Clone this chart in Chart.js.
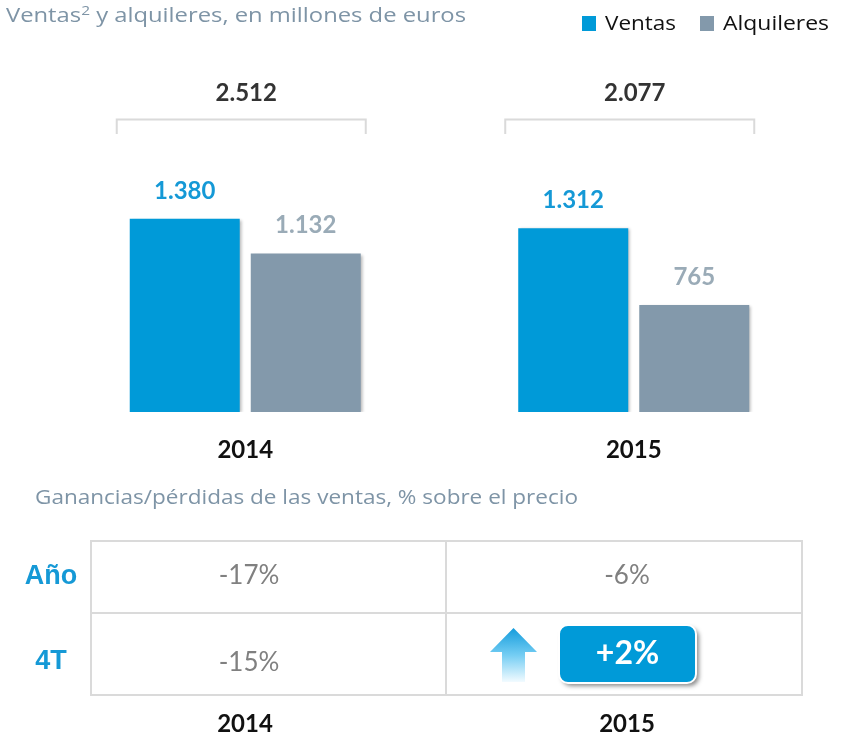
<!DOCTYPE html>
<html><head><meta charset="utf-8">
<script src="https://cdn.jsdelivr.net/npm/chart.js@4.4.1/dist/chart.umd.min.js"></script>
<style>html,body{margin:0;padding:0;background:#fff;} #wrap{position:relative;width:850px;height:737px;}</style>
</head><body><div id="wrap"><canvas id="c" width="850" height="737"></canvas></div>
<script>
// ---- data ----
const categories = ['2014', '2015'];
const seriesNames = ['Ventas', 'Alquileres'];
const ventas = [1380, 1312];
const alquileres = [1132, 765];
const totals = [2512, 2077];
const titleMain = ['Ventas', '2', ' y alquileres, en millones de euros'];
const subtitle = 'Ganancias/pérdidas de las ventas, % sobre el precio';
const tableRows = ['Año', '4T'];
const tableCols = ['2014', '2015'];
const gainsAno = ['-17%', '-6%'];
const gains4T = ['-15%', '+2%'];

// ---- styles ----
const BLUE = '#009ad8', GREY = '#8399ab';
const BLUE_TXT = '#1599d6', GREY_TXT = '#9aabb7';
const TITLE_COL = '#7e94a6';
const FONT = 'Lato, "Open Sans", sans-serif';
const RFONT = '"Open Sans", Lato, sans-serif';

function fmt(n) { return String(n).replace(/\B(?=(\d{3})+(?!\d))/g, '.'); }

// draw left-aligned text horizontally fitted to a target width
function fillFit(ctx, parts, x, y, targetW) {
  // parts: [{t, font, dy}]
  let w = 0;
  parts.forEach(p => { ctx.font = p.font; p.w = ctx.measureText(p.t).width; w += p.w; });
  const s = targetW / w;
  ctx.save();
  ctx.translate(x, y);
  ctx.scale(s, 1);
  let cx = 0;
  parts.forEach(p => { ctx.font = p.font; ctx.fillText(p.t, cx, p.dy || 0); cx += p.w; });
  ctx.restore();
}

const overlay = {
  id: 'overlay',
  beforeDatasetsDraw(chart) {
    const ctx = chart.ctx;
    ctx.save();
    ctx.shadowColor = 'rgba(0,0,0,0.28)';
    ctx.shadowOffsetX = 2; ctx.shadowOffsetY = 1; ctx.shadowBlur = 3;
  },
  afterDatasetsDraw(chart) {
    const ctx = chart.ctx;
    ctx.restore();
    const m0 = chart.getDatasetMeta(0), m1 = chart.getDatasetMeta(1);
    ctx.save();
    ctx.textAlign = 'center'; ctx.textBaseline = 'middle';
    ctx.font = 'bold 24px ' + FONT;
    chart.data.datasets.forEach((ds, di) => {
      const meta = chart.getDatasetMeta(di);
      ctx.fillStyle = di === 0 ? BLUE_TXT : GREY_TXT;
      meta.data.forEach((bar, i) => {
        ctx.fillText(fmt(ds.data[i]), bar.x, bar.y - 28);
      });
    });
    // totals with brackets
    categories.forEach((c, i) => {
      const b0 = m0.data[i], b1 = m1.data[i];
      const left = b0.x - b0.width / 2 - 13, right = b1.x + b1.width / 2 + 5;
      ctx.strokeStyle = '#dadada'; ctx.lineWidth = 2;
      ctx.beginPath();
      ctx.moveTo(left, 134); ctx.lineTo(left, 119.5); ctx.lineTo(right, 119.5); ctx.lineTo(right, 134);
      ctx.stroke();
      ctx.fillStyle = '#333333';
      ctx.font = 'bold 24px ' + FONT;
      ctx.fillText(fmt(totals[i]), (b0.x + b1.x) / 2 + 1, 93.5);
      // category label
      ctx.fillStyle = '#111111';
      ctx.fillText(c, chart.scales.x.getPixelForValue(i), 450);
    });
    ctx.restore();
  },
  afterDraw(chart) {
    const ctx = chart.ctx;
    ctx.save();
    // title
    ctx.textBaseline = 'alphabetic'; ctx.textAlign = 'left';
    ctx.fillStyle = TITLE_COL;
    fillFit(ctx, [
      { t: titleMain[0], font: '20px ' + RFONT },
      { t: titleMain[1], font: '13px ' + RFONT, dy: -7 },
      { t: titleMain[2], font: '20px ' + RFONT }
    ], 6, 22, 460);
    // legend
    const legX = [582, 700], legW = [71, 106];
    chart.data.datasets.forEach((ds, i) => {
      ctx.fillStyle = ds.backgroundColor;
      ctx.fillRect(legX[i], 16, 14, 15);
      ctx.fillStyle = '#111111';
      fillFit(ctx, [{ t: ds.label, font: '20px ' + RFONT }], legX[i] + 23, 29.5, legW[i]);
    });
    // subtitle
    ctx.fillStyle = TITLE_COL;
    fillFit(ctx, [{ t: subtitle, font: '20px ' + RFONT }], 35, 504, 543);
    // table grid
    const L = 91, R = 802, T = 541, M = 613, B = 695, V = 446;
    ctx.strokeStyle = '#dadada'; ctx.lineWidth = 2;
    ctx.strokeRect(L, T, R - L, B - T);
    ctx.beginPath();
    ctx.moveTo(L, M); ctx.lineTo(R, M);
    ctx.moveTo(V, T); ctx.lineTo(V, B);
    ctx.stroke();
    // row labels
    ctx.textBaseline = 'middle';
    const rowY = [577, 662];
    ctx.textAlign = 'center';
    ctx.fillStyle = BLUE_TXT;
    ctx.font = 'bold 27px "Liberation Sans", Arial, sans-serif';
    tableRows.forEach((r, i) => ctx.fillText(r, 51, rowY[i]));
    // cells
    const colX = [249, 627];
    ctx.fillStyle = '#808080';
    ctx.font = '26px ' + FONT;
    gainsAno.forEach((g, i) => ctx.fillText(g, colX[i], 576));
    ctx.fillText(gains4T[0], colX[0], 663);
    // highlighted cell: arrow + box
    const grad = ctx.createLinearGradient(0, 628, 0, 682);
    grad.addColorStop(0, '#149cdc');
    grad.addColorStop(0.5, '#74cdf3');
    grad.addColorStop(1, '#f2fbff');
    ctx.fillStyle = grad;
    ctx.beginPath();
    ctx.moveTo(513.5, 628); ctx.lineTo(537, 652); ctx.lineTo(525, 652); ctx.lineTo(525, 682);
    ctx.lineTo(502, 682); ctx.lineTo(502, 652); ctx.lineTo(490, 652); ctx.closePath();
    ctx.fill();
    ctx.save();
    ctx.shadowColor = 'rgba(0,0,0,0.45)'; ctx.shadowOffsetX = 3; ctx.shadowOffsetY = 3; ctx.shadowBlur = 4;
    ctx.beginPath(); ctx.roundRect(559, 625, 137, 58, 9);
    ctx.fillStyle = BLUE; ctx.fill();
    ctx.restore();
    ctx.beginPath(); ctx.roundRect(559, 625, 137, 58, 9);
    ctx.strokeStyle = '#ffffff'; ctx.lineWidth = 2; ctx.stroke();
    ctx.fillStyle = '#ffffff';
    ctx.font = 'bold 32px ' + FONT;
    ctx.fillText(gains4T[1], 627.5, 654);
    // bottom year labels
    ctx.fillStyle = '#111111';
    ctx.font = 'bold 24px ' + FONT;
    tableCols.forEach((c, i) => ctx.fillText(c, [245, 627][i], 724));
    ctx.restore();
  }
};

new Chart(document.getElementById('c'), {
  type: 'bar',
  data: {
    labels: categories,
    datasets: [
      { label: seriesNames[0], data: ventas, backgroundColor: BLUE, barPercentage: 0.909, categoryPercentage: 0.623 },
      { label: seriesNames[1], data: alquileres, backgroundColor: GREY, barPercentage: 0.909, categoryPercentage: 0.623 }
    ]
  },
  options: {
    responsive: false,
    animation: false,
    events: [],
    layout: { padding: { left: 51, right: 22, top: 62, bottom: 325 } },
    plugins: { legend: { display: false }, tooltip: { enabled: false }, title: { display: false } },
    scales: {
      x: { display: false, offset: true },
      y: { display: false, min: 0, max: 2500 }
    }
  },
  plugins: [overlay]
});
</script>
</body></html>
